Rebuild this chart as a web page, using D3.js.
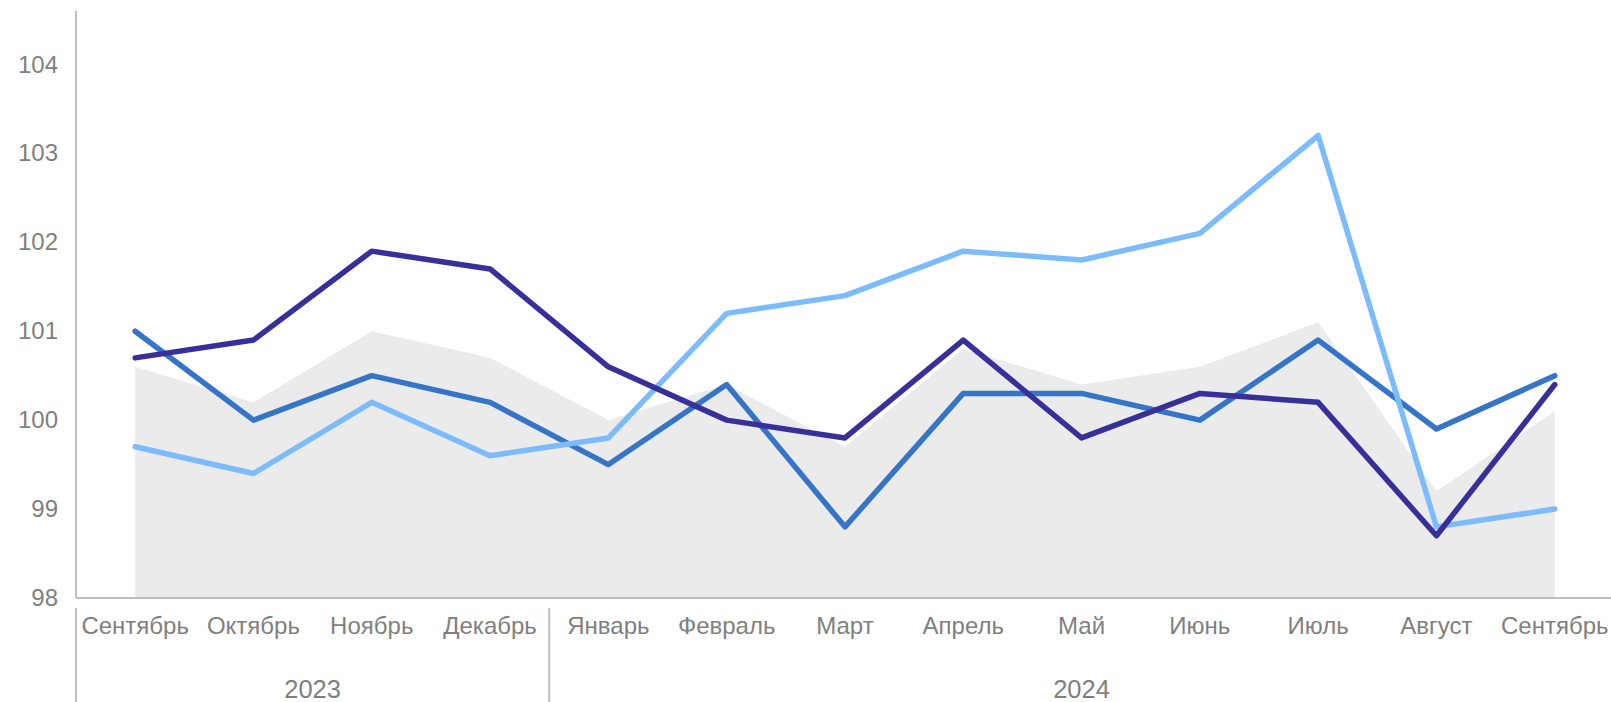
<!DOCTYPE html>
<html>
<head>
<meta charset="utf-8">
<script src="https://cdn.jsdelivr.net/npm/d3@7"></script>
<style>
  body { margin: 0; background: #fff; }
  text { font-family: "Liberation Sans", Arial, sans-serif; fill: #7f7f7f; }
</style>
</head>
<body>
<svg id="chart"></svg>
<script>
// months, two years
const months = ["Сентябрь", "Октябрь", "Ноябрь", "Декабрь", "Январь", "Февраль", "Март",
    "Апрель", "Май", "Июнь", "Июль", "Август", "Сентябрь"];
const years = [{ label: "2023", from: 0, to: 4 }, { label: "2024", from: 4, to: 13 }];
const yTicks = [98, 99, 100, 101, 102, 103, 104];

// series
const greyArea = [100.6, 100.2, 101.0, 100.7, 100.0, 100.4, 99.7, 100.8, 100.4, 100.6, 101.1, 99.2, 100.1];
const navyLine = [100.7, 100.9, 101.9, 101.7, 100.6, 100.0, 99.8, 100.9, 99.8, 100.3, 100.2, 98.7, 100.4];
const blueLine = [101.0, 100.0, 100.5, 100.2, 99.5, 100.4, 98.8, 100.3, 100.3, 100.0, 100.9, 99.9, 100.5];
const lightLine = [99.7, 99.4, 100.2, 99.6, 99.8, 101.2, 101.4, 101.9, 101.8, 102.1, 103.2, 98.8, 99.0];

const width = 1611,
    height = 702;
const margin = { top: 11, left: 76, bottom: 598 };

const svg = d3.select("#chart")
    .attr("width", width)
    .attr("height", height);

const idx = d3.range(months.length);

const x = d3.scaleBand()
    .domain(idx)
    .range([margin.left, margin.left + 118.3 * months.length]);

const y = d3.scaleLinear()
    .domain([98, 104.6])
    .range([margin.bottom, margin.top]);

const cx = i => x(i) + x.bandwidth() / 2;

// grey area
const area = d3.area()
    .x((d, i) => cx(i))
    .y0(y(98))
    .y1(d => y(d));

svg.append("path")
    .datum(greyArea)
    .attr("d", area)
    .attr("fill", "#ebebeb");

// lines
const line = d3.line()
    .x((d, i) => cx(i))
    .y(d => y(d));

const series = [
    { values: blueLine, color: "#3574c6" },
    { values: lightLine, color: "#7dbbff" },
    { values: navyLine, color: "#37309a" }
];

svg.selectAll(".series")
    .data(series)
    .join("path")
    .attr("class", "series")
    .attr("d", d => line(d.values))
    .attr("fill", "none")
    .attr("stroke", d => d.color)
    .attr("stroke-width", 5.5)
    .attr("stroke-linecap", "round")
    .attr("stroke-linejoin", "round");

// y axis
svg.append("g")
    .attr("transform", `translate(${margin.left},0)`)
    .call(d3.axisLeft(y).tickValues(yTicks).tickFormat(d3.format("d")).tickSize(0).tickPadding(18))
    .call(g => g.select(".domain").remove())
    .call(g => g.selectAll("text")
        .style("font-size", "24px")
        .attr("font-family", null)
        .attr("fill", "#7f7f7f"));

svg.append("line")
    .attr("x1", margin.left).attr("x2", margin.left)
    .attr("y1", margin.top).attr("y2", margin.bottom)
    .attr("stroke", "#bfbfbf")
    .attr("stroke-width", 2);

// x axis
svg.append("g")
    .attr("transform", `translate(0,${margin.bottom})`)
    .call(d3.axisBottom(x).tickFormat(i => months[i]).tickSize(0).tickPadding(18.5))
    .call(g => g.select(".domain").remove())
    .call(g => g.selectAll("text")
        .style("font-size", "24px")
        .attr("font-family", null)
        .attr("fill", "#7f7f7f"));

svg.append("line")
    .attr("x1", margin.left).attr("x2", width)
    .attr("y1", margin.bottom).attr("y2", margin.bottom)
    .attr("stroke", "#bfbfbf")
    .attr("stroke-width", 2);

// year groups
svg.selectAll(".sep")
    .data(years)
    .join("line")
    .attr("class", "sep")
    .attr("x1", d => x(d.from)).attr("x2", d => x(d.from))
    .attr("y1", 608).attr("y2", height)
    .attr("stroke", "#bfbfbf")
    .attr("stroke-width", 2);

svg.selectAll(".year")
    .data(years)
    .join("text")
    .attr("class", "year")
    .attr("x", d => (x(d.from) + x(d.to - 1) + x.bandwidth()) / 2)
    .attr("y", 698)
    .attr("text-anchor", "middle")
    .style("font-size", "25.5px")
    .text(d => d.label);
</script>
</body>
</html>
